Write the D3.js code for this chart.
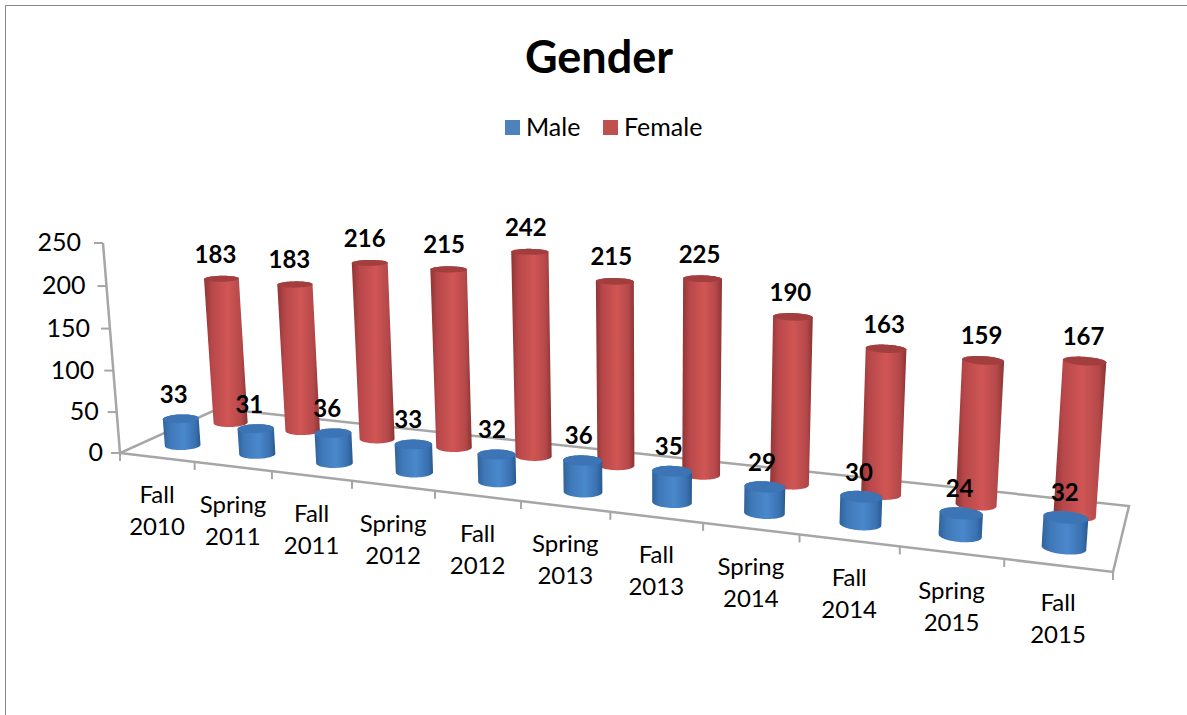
<!DOCTYPE html>
<html lang="en">
<head>
    <meta charset="UTF-8">
    <script src="https://d3js.org/d3.v7.min.js"></script>
    <style>
        html, body { margin: 0; padding: 0; background: #fff; }
        svg { display: block; }
        text { font-family: Lato, "Open Sans", sans-serif; fill: #000; }
    </style>
</head>
<body>
    <svg id="chart" width="1187" height="715"></svg>
    <script>
        const categories = ["Fall 2010", "Spring 2011", "Fall 2011", "Spring 2012", "Fall 2012", "Spring 2013",
            "Fall 2013", "Spring 2014", "Fall 2014", "Spring 2015", "Fall 2015"];
        const male = [33, 31, 36, 33, 32, 36, 35, 29, 30, 24, 32];
        const female = [183, 183, 216, 215, 242, 215, 225, 190, 163, 159, 167];
        const seriesNames = ["Male", "Female"];
        const yTicks = [0, 50, 100, 150, 200, 250];

        const width = 1187, height = 715;
        const svg = d3.select("#chart");

        // floor of the 3d plot as seen on the picture, and where the verticals converge
        const floor = [[120, 453], [1113, 572], [1129, 506], [218.5, 408.5]];
        const vanish = [654, 7050];
        const topW = -0.03085;

        // unit square -> floor quad
        function homography(p) {
            const [[x0, y0], [x1, y1], [x2, y2], [x3, y3]] = p;
            const dx1 = x1 - x2, dx2 = x3 - x2, sx = x0 - x1 + x2 - x3;
            const dy1 = y1 - y2, dy2 = y3 - y2, sy = y0 - y1 + y2 - y3;
            const den = dx1 * dy2 - dx2 * dy1;
            const g = (sx * dy2 - dx2 * sy) / den;
            const h = (dx1 * sy - sx * dy1) / den;
            return { a: x1 - x0 + g * x1, b: x3 - x0 + h * x3, c: x0,
                     d: y1 - y0 + g * y1, e: y3 - y0 + h * y3, f: y0, g, h };
        }
        const H = homography(floor);

        const x = d3.scaleBand().domain(categories).range([0, 1]).paddingInner(0.58).paddingOuter(0.29);
        const z = d3.scaleBand().domain(seriesNames).range([0, 1]).paddingInner(0.64).paddingOuter(0.32);
        const y = d3.scaleLinear().domain([0, 250]).range([0, 1]);

        // u along categories, w into depth, t = 0..1 up the value axis
        function project(u, w, t) {
            const W = H.g * u + H.h * w + 1 + topW * t;
            return [
                (H.a * u + H.b * w + H.c + vanish[0] * topW * t) / W,
                (H.d * u + H.e * w + H.f + vanish[1] * topW * t) / W
            ];
        }

        const defs = svg.append("defs");
        function shade(id, stops) {
            const g = defs.append("linearGradient").attr("id", id);
            stops.forEach(([o, c]) => g.append("stop").attr("offset", o).attr("stop-color", c));
        }
        shade("gradMale", [[0, "#2f6299"], [0.18, "#3f78b8"], [0.55, "#4a88cc"], [0.85, "#3a72b2"], [1, "#2a5a90"]]);
        shade("gradFemale", [[0, "#8f3533"], [0.18, "#b8474a"], [0.55, "#d05654"], [0.85, "#b5484a"], [1, "#8a3432"]]);

        // chart border
        svg.append("path").attr("d", `M5.5,${height}V5.5H${width}`)
            .attr("fill", "none").attr("stroke", "#868686").attr("stroke-width", 1);

        svg.append("text").attr("x", 599).attr("y", 73).attr("text-anchor", "middle")
            .style("font-size", "45px").style("font-weight", "bold").text("Gender");

        // legend
        const legendColors = { Male: "#4f81bd", Female: "#c0504d" };
        const legendX = { Male: 505, Female: 603 };
        const legend = svg.selectAll(".legend").data(seriesNames).enter().append("g")
            .attr("class", "legend").attr("transform", d => `translate(${legendX[d]},120)`);
        legend.append("rect").attr("width", 15).attr("height", 15).attr("fill", d => legendColors[d]);
        legend.append("text").attr("x", 21).attr("y", 16).style("font-size", "25px").text(d => d);

        // floor and axes
        const axisColor = "#a6a6a6";
        const line = d3.line();
        svg.append("path").attr("d", line(floor) + "Z")
            .attr("fill", "none").attr("stroke", axisColor).attr("stroke-width", 2.5);
        svg.append("path").attr("d", line([project(0, 0, 0), project(0, 0, 1)]))
            .attr("fill", "none").attr("stroke", axisColor).attr("stroke-width", 2.5);

        const yAxis = svg.append("g");
        yTicks.forEach(t => {
            const p = project(0, 0, y(t));
            yAxis.append("line").attr("x1", p[0] - 9).attr("x2", p[0]).attr("y1", p[1]).attr("y2", p[1])
                .attr("stroke", axisColor).attr("stroke-width", 2);
            yAxis.append("text").attr("x", p[0] - 17 - t * 0.02).attr("y", p[1] + 8)
                .attr("text-anchor", "end").style("font-size", "25px").text(t);
        });

        // ticks under the front edge, one per category boundary
        const tickU = categories.map((c, i) => i / categories.length).concat([1]);
        svg.append("g").selectAll("line").data(tickU).enter().append("line")
            .attr("x1", d => project(d, 0, 0)[0]).attr("x2", d => project(d, 0, 0)[0])
            .attr("y1", d => project(d, 0, 0)[1]).attr("y2", d => project(d, 0, 0)[1] + 8)
            .attr("stroke", axisColor).attr("stroke-width", 2);

        svg.append("g").selectAll("text").data(categories).enter().append("text")
            .attr("text-anchor", "middle").style("font-size", "24px")
            .each(function(d) {
                const p = project(x(d) + x.bandwidth() / 2, 0, 0);
                d3.select(this).selectAll("tspan").data(d.split(" ")).enter().append("tspan")
                    .attr("x", p[0]).attr("y", (s, i) => p[1] + 46 + i * 32).text(s => s);
            });

        // cylinders, back row first
        const ru = x.bandwidth() / 2, rw = z.bandwidth() / 2;
        function ring(c, s, t) {
            const u = x(c) + ru, w = z(s) + rw;
            return d3.range(60).map(k => {
                const a = k / 60 * 2 * Math.PI;
                return project(u + ru * Math.cos(a), w + rw * Math.sin(a), t);
            });
        }

        const rows = [
            { name: "Female", values: female, fill: "url(#gradFemale)", cap: "#a23f3e", labelDx: [-6, -1] },
            { name: "Male", values: male, fill: "url(#gradMale)", cap: "#3c74b5", labelDx: [-7, -1] }
        ];
        rows.forEach(row => {
            const g = svg.append("g");
            categories.forEach((c, i) => {
                const t = y(row.values[i]);
                const hull = d3.polygonHull(ring(c, row.name, 0).concat(ring(c, row.name, t)));
                g.append("path").attr("d", line(hull) + "Z").attr("fill", row.fill);
                g.append("path").attr("d", line(ring(c, row.name, t)) + "Z").attr("fill", row.cap);
            });
        });

        // value labels sit above everything
        rows.forEach(row => {
            categories.forEach((c, i) => {
                const p = project(x(c) + ru, z(row.name) + rw, y(row.values[i]));
                svg.append("text")
                    .attr("x", p[0] + row.labelDx[0] + (row.labelDx[1] - row.labelDx[0]) * i / (categories.length - 1))
                    .attr("y", p[1] - 16)
                    .attr("text-anchor", "middle")
                    .style("font-size", "24px").style("font-weight", "bold")
                    .text(row.values[i]);
            });
        });
    </script>
</body>
</html>
